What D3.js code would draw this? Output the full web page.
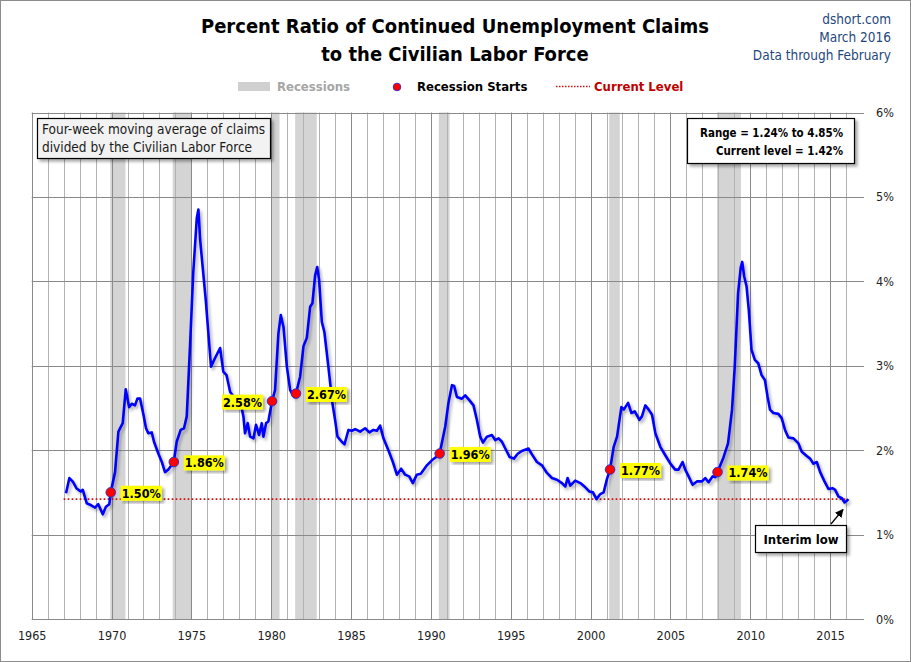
<!DOCTYPE html>
<html><head><meta charset="utf-8">
<script src="https://cdn.jsdelivr.net/npm/d3@7"></script>
<style>
html,body{margin:0;padding:0;background:#fff;}
svg{display:block;}
text{font-family:"DejaVu Sans Condensed","DejaVu Sans",sans-serif;font-stretch:condensed;}
</style></head><body>
<svg id="chart" width="911" height="662"></svg>
<script>
// ---- data ----
const dates = [1967.15,1967.36,1967.6,1967.8,1968.07,1968.2,1968.45,1968.7,1968.97,1969.17,1969.45,1969.65,1969.86,1969.95,
1970.22,1970.43,1970.7,1970.89,1971.1,1971.27,1971.47,1971.62,1971.79,1972.0,1972.16,1972.3,1972.52,1972.66,1972.93,
1973.15,1973.35,1973.56,1973.9,1974.08,1974.33,1974.54,1974.71,1974.92,1975.12,1975.34,1975.44,1975.55,1975.9,
1976.23,1976.48,1976.8,1977.0,1977.2,1977.43,1977.74,1978.05,1978.26,1978.36,1978.53,1978.68,1978.89,1979.05,1979.24,
1979.41,1979.51,1979.68,1979.82,1980.05,1980.24,1980.45,1980.6,1980.77,1980.98,1981.19,1981.4,1981.55,1981.81,1982.02,
1982.23,1982.44,1982.58,1982.75,1982.88,1983.0,1983.17,1983.33,1983.58,1983.83,1984.0,1984.15,1984.42,1984.59,1984.84,
1985.05,1985.26,1985.57,1985.88,1986.15,1986.4,1986.62,1986.82,1987.03,1987.34,1987.62,1987.87,1988.14,1988.39,1988.64,
1988.87,1989.12,1989.37,1989.75,1990.06,1990.33,1990.55,1990.9,1991.1,1991.32,1991.46,1991.63,1991.94,1992.15,1992.42,
1992.67,1992.88,1993.09,1993.26,1993.51,1993.82,1994.03,1994.24,1994.45,1994.66,1994.93,1995.2,1995.45,1995.7,1996.11,
1996.33,1996.64,1996.96,1997.27,1997.58,1997.9,1998.21,1998.42,1998.56,1998.73,1999.04,1999.36,1999.67,1999.93,2000.15,
2000.37,2000.61,2000.82,2001.03,2001.22,2001.45,2001.66,2001.93,2002.08,2002.35,2002.56,2002.77,2003.06,2003.22,2003.43,
2003.64,2003.85,2004.06,2004.37,2004.68,2005.0,2005.3,2005.51,2005.76,2005.93,2006.14,2006.39,2006.66,2006.98,2007.18,
2007.39,2007.65,2007.82,2007.95,2008.3,2008.61,2008.86,2009.03,2009.24,2009.41,2009.5,2009.62,2009.77,2009.91,2010.08,
2010.29,2010.5,2010.71,2010.92,2011.09,2011.24,2011.45,2011.76,2011.97,2012.18,2012.39,2012.71,2013.02,2013.23,2013.54,
2013.75,2013.96,2014.17,2014.38,2014.65,2014.9,2015.15,2015.32,2015.53,2015.74,2015.91,2016.05,2016.15];
const ratios = [1.49,1.67,1.62,1.55,1.51,1.53,1.37,1.35,1.32,1.36,1.24,1.33,1.36,1.50,
1.74,2.22,2.32,2.72,2.51,2.55,2.53,2.61,2.61,2.42,2.26,2.20,2.21,2.10,1.96,
1.86,1.74,1.77,1.86,2.10,2.24,2.26,2.40,3.25,4.11,4.75,4.85,4.49,3.78,
2.99,3.09,3.21,2.93,2.89,2.69,2.61,2.59,2.40,2.20,2.32,2.16,2.14,2.30,2.18,
2.32,2.16,2.32,2.34,2.58,2.71,3.38,3.60,3.46,2.99,2.71,2.64,2.67,2.87,3.23,
3.33,3.70,3.74,4.07,4.17,4.02,3.52,3.40,2.99,2.56,2.36,2.16,2.10,2.07,2.24,
2.23,2.25,2.22,2.26,2.21,2.24,2.23,2.29,2.14,2.00,1.86,1.71,1.78,1.71,1.69,
1.61,1.71,1.72,1.82,1.88,1.92,1.96,2.28,2.56,2.77,2.76,2.63,2.61,2.65,2.59,
2.53,2.36,2.16,2.09,2.16,2.18,2.12,2.14,2.10,2.02,1.92,1.90,1.96,1.99,2.02,
1.95,1.86,1.82,1.73,1.67,1.65,1.61,1.57,1.67,1.58,1.64,1.61,1.56,1.51,1.50,
1.42,1.48,1.50,1.66,1.77,2.04,2.16,2.51,2.48,2.56,2.44,2.46,2.36,2.40,2.53,
2.48,2.42,2.20,2.04,1.94,1.84,1.77,1.77,1.86,1.77,1.69,1.59,1.63,1.63,1.67,
1.62,1.69,1.68,1.74,1.90,2.08,2.48,2.99,3.86,4.17,4.23,4.06,3.94,3.66,3.19,
3.07,3.03,2.89,2.83,2.63,2.48,2.44,2.43,2.38,2.24,2.15,2.14,2.08,1.98,1.93,
1.90,1.84,1.86,1.74,1.63,1.54,1.55,1.53,1.45,1.43,1.38,1.40,1.42];
const recessionStart = [1969.92,1973.83,1980.0,1981.5,1990.5,2001.17,2007.92];
const recessionEnd   = [1970.87,1975.0,1980.52,1982.85,1991.17,2001.83,2009.42];
const startDates  = [1969.95,1973.9,1980.05,1981.55,1990.55,2001.22,2007.95];
const startValues = [1.50,1.86,2.58,2.67,1.96,1.77,1.74];
const startLabels = ["1.50%","1.86%","2.58%","2.67%","1.96%","1.77%","1.74%"];
const labelSide   = ["r","r","l","r","r","r","r"];
const currentLevel = 1.42;
const currentRange = [1967.0, 2016.1];
const xTickYears = [1965,1970,1975,1980,1985,1990,1995,2000,2005,2010,2015];
const yTickValues = [0,1,2,3,4,5,6];
const titleLines = ["Percent Ratio of Continued Unemployment Claims","to the Civilian Labor Force"];
const sourceLines = ["dshort.com","March 2016","Data through February"];
const noteLines = ["Four-week moving average of claims","divided by the Civilian Labor Force"];
const rangeLines = ["Range = 1.24% to 4.85%","Current level = 1.42%"];

// ---- chart ----
const svg = d3.select("#chart");
const defs = svg.append("defs");
const f1 = defs.append("filter").attr("id","sh").attr("x","-20%").attr("y","-20%").attr("width","140%").attr("height","140%");
f1.append("feDropShadow").attr("dx",2.5).attr("dy",2.5).attr("stdDeviation",1.5).attr("flood-color","#000").attr("flood-opacity",0.35);
const f2 = defs.append("filter").attr("id","lsh").attr("x","-5%").attr("y","-5%").attr("width","110%").attr("height","110%");
f2.append("feDropShadow").attr("dx",2).attr("dy",2.5).attr("stdDeviation",1.6).attr("flood-color","#000").attr("flood-opacity",0.3);

svg.append("rect").attr("x",0.5).attr("y",0.5).attr("width",910).attr("height",661)
  .attr("fill","#fff").attr("stroke","#8c8c8c");

const x = d3.scaleLinear().domain([1965,2017]).range([31.7,862]);
const y = d3.scaleLinear().domain([0,6]).range([619,112.5]);

// recessions
svg.append("g").selectAll("rect").data(recessionStart).join("rect")
  .attr("x",(d)=>x(d)).attr("width",(d,i)=>x(recessionEnd[i])-x(d))
  .attr("y",y(6)).attr("height",y(0)-y(6)).attr("fill","#d4d4d4");

// grid
const years = d3.range(1966,2017);
svg.append("g").selectAll("line").data(years).join("line")
  .attr("x1",d=>Math.round(x(d))+0.5).attr("x2",d=>Math.round(x(d))+0.5)
  .attr("y1",y(6)).attr("y2",y(0))
  .attr("stroke",d=>d%5===0?"#8a8a8a":"#b2b2b2").attr("stroke-width",1);
svg.append("g").selectAll("line").data(yTickValues.filter(d=>d>0)).join("line")
  .attr("x1",x(1965)).attr("x2",x(2017)+2)
  .attr("y1",d=>Math.round(y(d))+0.5).attr("y2",d=>Math.round(y(d))+0.5)
  .attr("stroke","#8a8a8a");
svg.append("line").attr("x1",Math.round(x(1965))+0.5).attr("x2",Math.round(x(1965))+0.5)
  .attr("y1",y(6)).attr("y2",y(0)).attr("stroke","#8a8a8a");
svg.append("line").attr("x1",x(1965)).attr("x2",x(2017)+2)
  .attr("y1",Math.round(y(0))+0.5).attr("y2",Math.round(y(0))+0.5).attr("stroke","#8a8a8a");

// axes
const xa = svg.append("g").attr("transform",`translate(0,${y(0)})`)
  .call(d3.axisBottom(x).tickValues(xTickYears).tickFormat(d3.format("d")).tickSize(0).tickPadding(12));
xa.select(".domain").remove();
xa.selectAll("text").attr("font-size",12.5).attr("fill","#222").style("font-family","'DejaVu Sans Condensed','DejaVu Sans',sans-serif");
const ya = svg.append("g").attr("transform",`translate(${x(2017)},0)`)
  .call(d3.axisRight(y).tickValues(yTickValues).tickFormat(d=>d+"%").tickSize(0).tickPadding(14));
ya.select(".domain").remove();
ya.selectAll("text").attr("font-size",12.5).attr("fill","#222").style("font-family","'DejaVu Sans Condensed','DejaVu Sans',sans-serif");

// current level line
svg.append("line").attr("x1",x(currentRange[0])).attr("x2",x(currentRange[1]))
  .attr("y1",y(currentLevel)).attr("y2",y(currentLevel))
  .attr("stroke","#d01010").attr("stroke-width",1.7).attr("stroke-dasharray","1.7,2.3");

// series line
const line = d3.line().x((d,i)=>x(dates[i])).y((d,i)=>y(ratios[i]));
svg.append("path").datum(ratios).attr("d",line).attr("fill","none")
  .attr("stroke","#0000ff").attr("stroke-width",2.6).attr("stroke-linejoin","round")
  .attr("filter","url(#lsh)");

// recession start dots + labels
const lg = svg.append("g");
startDates.forEach((d,i)=>{
  const cx = x(d), cy = y(startValues[i]);
  const g = lg.append("g");
  const t = g.append("text").attr("font-size",12.5).attr("font-weight","bold").attr("fill","#000")
    .attr("dy","0.35em").attr("y",cy+1).text(startLabels[i]);
  if(labelSide[i]==="r"){ t.attr("x",cx+11).attr("text-anchor","start"); }
  else { t.attr("x",cx-10).attr("text-anchor","end"); }
  const b = t.node().getBBox();
  g.insert("rect","text").attr("x",b.x-1).attr("y",b.y).attr("width",b.width+2).attr("height",b.height)
    .attr("fill","#ffff00").attr("filter","url(#sh)");
  svg.append("circle").attr("cx",cx).attr("cy",cy).attr("r",4.8).attr("fill","#ff0000")
    .attr("stroke","#2a2ad0").attr("stroke-width",0.9);
});

// title
svg.append("g").selectAll("text").data(titleLines).join("text")
  .attr("x",455).attr("y",(d,i)=>33+i*28).attr("text-anchor","middle")
  .attr("font-size",20).attr("font-weight","bold").attr("fill","#000").text(d=>d);
svg.append("g").selectAll("text").data(sourceLines).join("text")
  .attr("x",891).attr("y",(d,i)=>24+i*18).attr("text-anchor","end")
  .attr("font-size",13.5).attr("fill","#1f497d").text(d=>d);

// legend
const leg = svg.append("g");
leg.append("rect").attr("x",238).attr("y",82).attr("width",32).attr("height",9).attr("fill","#d0d0d0");
leg.append("text").attr("x",277).attr("y",91).attr("font-size",13).attr("font-weight","bold").attr("fill","#a6a6a6").text("Recessions");
leg.append("circle").attr("cx",397).attr("cy",87).attr("r",3.8).attr("fill","#ff0000").attr("stroke","#2a2ad0").attr("stroke-width",0.9);
leg.append("text").attr("x",417).attr("y",91).attr("font-size",13).attr("font-weight","bold").attr("fill","#000").text("Recession Starts");
leg.append("line").attr("x1",556).attr("x2",590).attr("y1",86.5).attr("y2",86.5).attr("stroke","#d01010").attr("stroke-width",1.4).attr("stroke-dasharray","1.5,1.5");
leg.append("text").attr("x",594).attr("y",91).attr("font-size",13).attr("font-weight","bold").attr("fill","#c00000").text("Current Level");

// note box
svg.append("rect").attr("x",37.5).attr("y",118.5).attr("width",233).attr("height",40)
  .attr("fill","#f2f2f2").attr("stroke","#000").attr("stroke-width",1.2).attr("filter","url(#sh)");
svg.append("g").selectAll("text").data(noteLines).join("text")
  .attr("x",42).attr("y",(d,i)=>134+i*18).attr("font-size",13.5).attr("fill","#1a1a1a").text(d=>d);

// range box
svg.append("rect").attr("x",687.5).attr("y",118.5).attr("width",167).attr("height",45)
  .attr("fill","#fff").attr("stroke","#000").attr("stroke-width",1.2).attr("filter","url(#sh)");
const rangeWidths = [143,127];
svg.append("g").selectAll("text").data(rangeLines).join("text")
  .attr("x",843).attr("y",(d,i)=>137+i*18).attr("text-anchor","end")
  .attr("font-size",13).attr("font-weight","bold").attr("fill","#000")
  .attr("textLength",(d,i)=>rangeWidths[i]).attr("lengthAdjust","spacingAndGlyphs").text(d=>d);

// interim low box + arrow
defs.append("marker").attr("id","arr").attr("viewBox","0 0 10 10").attr("refX",9).attr("refY",5)
  .attr("markerWidth",7).attr("markerHeight",7).attr("orient","auto")
  .append("path").attr("d","M0,0 L10,5 L0,10 z").attr("fill","#000");
svg.append("line").attr("x1",831).attr("y1",524).attr("x2",x(2016.0)-3).attr("y2",y(1.38)+7)
  .attr("stroke","#000").attr("stroke-width",1.2).attr("marker-end","url(#arr)");
svg.append("rect").attr("x",755.5).attr("y",525.5).attr("width",91).attr("height",27)
  .attr("fill","#fff").attr("stroke","#000").attr("stroke-width",1.2).attr("filter","url(#sh)");
svg.append("text").attr("x",801).attr("y",544).attr("text-anchor","middle")
  .attr("font-size",13).attr("font-weight","bold").attr("fill","#000").text("Interim low");
</script></body></html>
